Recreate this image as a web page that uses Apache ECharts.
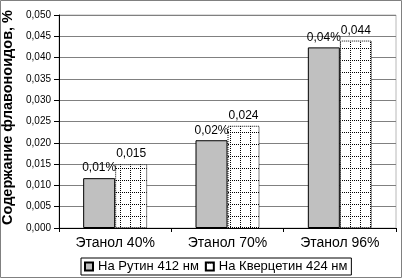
<!DOCTYPE html>
<html><head><meta charset="utf-8">
<script src="https://cdn.jsdelivr.net/npm/echarts@6/dist/echarts.min.js"></script>
<style>html,body{margin:0;padding:0;background:#fff}#c{width:402px;height:278px}</style>
</head><body><div id="c"></div>
<script>
const categories = ['Этанол 40%', 'Этанол 70%', 'Этанол 96%'];
const rutin = [0.0117, 0.0206, 0.0424];
const quercetin = [0.015, 0.024, 0.044];
const rutinLabels = ['0,01%', '0,02%', '0,04%'];
const quercetinLabels = ['0,015', '0,024', '0,044'];
const seriesNames = ['На Рутин 412 нм', 'На Кверцетин 424 нм'];
const yTitle = 'Содержание флавоноидов, %';

// dotted grid pattern
const pc = document.createElement('canvas');
pc.width = 10; pc.height = 12;
const g = pc.getContext('2d');
g.fillStyle = '#fff'; g.fillRect(0, 0, 10, 12);
g.fillStyle = '#000';
for (let i = 0; i < 12; i += 2) g.fillRect(0, i, 1, 1);
for (let i = 0; i < 10; i += 2) g.fillRect(i, 0, 1, 1);

const font = 'Arial, "Liberation Sans", sans-serif';
const chart = echarts.init(document.getElementById('c'), null, {renderer: 'canvas'});
chart.setOption({
  animation: false,
  textStyle: {fontFamily: font},
  grid: {left: 59, right: 6, top: 15, bottom: 50, show: true, borderColor: '#b8b8b8', borderWidth: 1,
    containLabel: false, outerBoundsMode: 'none'},
  graphic: [{type: 'rect', shape: {x: 0.5, y: 0.5, width: 401, height: 277}, style: {fill: 'none', stroke: '#808080', lineWidth: 1}, silent: true}],
  legend: {
    left: 81, top: 258, itemWidth: 8, itemHeight: 8, itemGap: 6,
    padding: [2, 4, 2, 3], borderColor: '#000', borderWidth: 1,
    icon: 'rect',
    textStyle: {fontFamily: font, fontSize: 13, color: '#000', padding: [0, 0, 0, 0]},
    data: seriesNames
  },
  xAxis: {
    type: 'category', data: categories,
    axisLine: {lineStyle: {color: '#000', width: 1}},
    axisTick: {show: true, length: 4, lineStyle: {color: '#000'}},
    axisLabel: {color: '#000', fontSize: 14, margin: 8, fontFamily: font}
  },
  yAxis: {
    type: 'value', min: 0, max: 0.05, interval: 0.005,
    name: yTitle, nameLocation: 'middle', nameGap: 33, nameRotate: 90,
    nameTextStyle: {fontSize: 14.5, fontWeight: 'bold', color: '#000', fontFamily: font, padding: [0, 0, 0, 8]},
    axisLine: {show: true, lineStyle: {color: '#000'}},
    axisTick: {show: true, length: 5, lineStyle: {color: '#000'}},
    axisLabel: {color: '#000', fontSize: 10, margin: 8, fontFamily: font,
      formatter: v => v.toFixed(3).replace('.', ',')},
    splitLine: {lineStyle: {color: '#808080', width: 1}}
  },
  series: [
    {
      name: seriesNames[0], type: 'bar', data: rutin, barWidth: 32, barGap: '0%',
      itemStyle: {color: '#c0c0c0', borderColor: '#000', borderWidth: 1},
      label: {show: true, position: 'top', distance: 4, color: '#000', fontSize: 12, fontFamily: font,
        formatter: p => rutinLabels[p.dataIndex]}
    },
    {
      name: seriesNames[1], type: 'bar', data: quercetin, barWidth: 32, barGap: '0%',
      itemStyle: {color: {image: pc, repeat: 'repeat'}, borderColor: '#000', borderWidth: 1, borderType: [1, 1]},
      label: {show: true, position: 'top', distance: 4, color: '#000', fontSize: 12, fontFamily: font,
        formatter: p => quercetinLabels[p.dataIndex]}
    }
  ]
});
</script></body></html>
